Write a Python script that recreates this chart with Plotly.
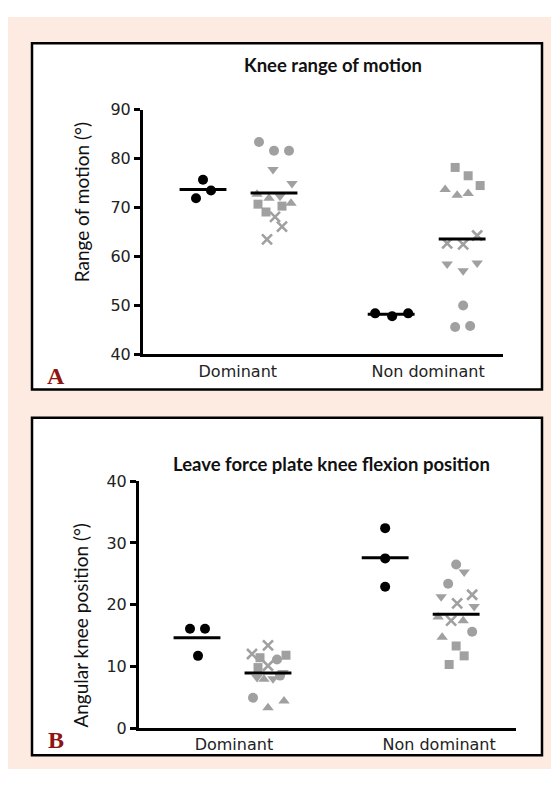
import plotly.graph_objects as go

# page is offset by the browser's default 8px body margin
OFF = 8
W, H = 559 - OFF, 787 - 2 * OFF
GRAY = "#a0a0a0"
BLACK = "#000000"

# ---------------- data ----------------
# Panel A: Knee range of motion (deg)
A_dom_black = [75.7, 73.5, 71.9]
A_dom_black_jit = [0, 8, -7]
A_dom_circle = [83.4, 81.6, 81.6]
A_dom_circle_jit = [-15, 0, 15]
A_dom_tdown = [77.8, 74.9, 72.3]
A_dom_tdown_jit = [-1, 18, 6]
A_dom_tup = [72.7, 71.9, 70.9]
A_dom_tup_jit = [-17, -5, 17]
A_dom_square = [70.7, 69.1, 70.3]
A_dom_square_jit = [-16, -8, 8]
A_dom_x = [68.1, 66.1, 63.5]
A_dom_x_jit = [1, 8, -7]

A_non_black = [48.4, 47.8, 48.4]
A_non_black_jit = [-16, 1, 17]
A_non_square = [78.2, 76.5, 74.5]
A_non_square_jit = [-7, 6, 18]
A_non_tup = [73.7, 72.5, 72.9]
A_non_tup_jit = [-17, -5, 6]
A_non_x = [62.7, 62.5, 64.3]
A_non_x_jit = [-15, 1, 15]
A_non_tdown = [58.5, 57.1, 58.7]
A_non_tdown_jit = [-15, 1, 15]
A_non_circle = [50.0, 45.6, 45.8]
A_non_circle_jit = [1, -7, 8]

# Panel B: Leave force plate knee flexion position (deg)
B_dom_black = [16.1, 16.1, 11.7]
B_dom_black_jit = [-7, 8, 1]
B_dom_x = [13.4, 12.0, 10.1]
B_dom_x_jit = [0, -16, 0]
B_dom_square = [11.8, 11.4, 9.8]
B_dom_square_jit = [18, -8, -10]
B_dom_circle = [11.1, 8.5, 4.9]
B_dom_circle_jit = [9, 12, -15]
B_dom_tup = [7.9, 3.3, 4.4]
B_dom_tup_jit = [-4, 0, 16]
B_dom_tdown = [8.2, 8.0, 9.0]
B_dom_tdown_jit = [-11, 5, 15]

B_non_black = [32.4, 27.5, 22.9]
B_non_black_jit = [0, 0, 0]
B_non_circle = [26.5, 23.4, 15.6]
B_non_circle_jit = [0, -8, 16]
B_non_tdown = [25.3, 21.3, 19.7]
B_non_tdown_jit = [8, -15, 18]
B_non_x = [21.6, 20.2, 17.4]
B_non_x_jit = [16, 1, -5]
B_non_tup = [18.0, 17.4, 14.7]
B_non_tup_jit = [-18, 7, -14]
B_non_square = [13.3, 11.7, 10.3]
B_non_square_jit = [0, 8, -7]

categories = ["Dominant", "Non dominant"]
col_pos = [0, 1, 2.65, 3.65]          # column centres (in column units)
A_yticks = [40, 50, 60, 70, 80, 90]
B_yticks = [0, 10, 20, 30, 40]
A_title = "Knee range of motion"
B_title = "Leave force plate knee flexion position"
A_ytitle = "Range of motion (°)"
B_ytitle = "Angular knee position (°)"

UNIT = 71.0  # px per column unit

fig = go.Figure()

def px(v):
    return (v - OFF) / W

def py(v):
    return 1 - (v - OFF) / H

def add_pts(vals, jit, col, symbol, color, xa, ya, size=10):
    xs = [col_pos[col] + j / UNIT for j in jit]
    if symbol == "x-thin":
        mk = dict(symbol="x-thin", size=size, line=dict(color=color, width=2.6))
    else:
        mk = dict(symbol=symbol, size=size, color=color, line=dict(width=0))
    fig.add_trace(go.Scatter(x=xs, y=vals, mode="markers", marker=mk,
                             xaxis=xa, yaxis=ya, showlegend=False,
                             hoverinfo="skip", cliponaxis=False))

def add_mean(vals, col, xa, ya):
    m = sum(vals) / len(vals)
    fig.add_trace(go.Scatter(x=[col_pos[col] - 0.33, col_pos[col] + 0.33], y=[m, m],
                             mode="lines", line=dict(color=BLACK, width=3),
                             xaxis=xa, yaxis=ya, showlegend=False, hoverinfo="skip",
                             cliponaxis=False))

# Panel A
add_pts(A_dom_black, A_dom_black_jit, 0, "circle", BLACK, "x", "y")
add_pts(A_dom_circle, A_dom_circle_jit, 1, "circle", GRAY, "x", "y")
add_pts(A_dom_tdown, A_dom_tdown_jit, 1, "triangle-down", GRAY, "x", "y")
add_pts(A_dom_tup, A_dom_tup_jit, 1, "triangle-up", GRAY, "x", "y")
add_pts(A_dom_square, A_dom_square_jit, 1, "square", GRAY, "x", "y", 9)
add_pts(A_dom_x, A_dom_x_jit, 1, "x-thin", GRAY, "x", "y")
add_pts(A_non_black, A_non_black_jit, 2, "circle", BLACK, "x", "y")
add_pts(A_non_square, A_non_square_jit, 3, "square", GRAY, "x", "y", 9)
add_pts(A_non_tup, A_non_tup_jit, 3, "triangle-up", GRAY, "x", "y")
add_pts(A_non_x, A_non_x_jit, 3, "x-thin", GRAY, "x", "y")
add_pts(A_non_tdown, A_non_tdown_jit, 3, "triangle-down", GRAY, "x", "y")
add_pts(A_non_circle, A_non_circle_jit, 3, "circle", GRAY, "x", "y")
add_mean(A_dom_black, 0, "x", "y")
add_mean(A_dom_circle + A_dom_tdown + A_dom_tup + A_dom_square + A_dom_x, 1, "x", "y")
add_mean(A_non_black, 2, "x", "y")
add_mean(A_non_square + A_non_tup + A_non_x + A_non_tdown + A_non_circle, 3, "x", "y")

# Panel B
add_pts(B_dom_black, B_dom_black_jit, 0, "circle", BLACK, "x2", "y2")
add_pts(B_dom_x, B_dom_x_jit, 1, "x-thin", GRAY, "x2", "y2")
add_pts(B_dom_square, B_dom_square_jit, 1, "square", GRAY, "x2", "y2", 9)
add_pts(B_dom_circle, B_dom_circle_jit, 1, "circle", GRAY, "x2", "y2")
add_pts(B_dom_tup, B_dom_tup_jit, 1, "triangle-up", GRAY, "x2", "y2")
add_pts(B_dom_tdown, B_dom_tdown_jit, 1, "triangle-down", GRAY, "x2", "y2")
add_pts(B_non_black, B_non_black_jit, 2, "circle", BLACK, "x2", "y2")
add_pts(B_non_circle, B_non_circle_jit, 3, "circle", GRAY, "x2", "y2")
add_pts(B_non_tdown, B_non_tdown_jit, 3, "triangle-down", GRAY, "x2", "y2")
add_pts(B_non_x, B_non_x_jit, 3, "x-thin", GRAY, "x2", "y2")
add_pts(B_non_tup, B_non_tup_jit, 3, "triangle-up", GRAY, "x2", "y2")
add_pts(B_non_square, B_non_square_jit, 3, "square", GRAY, "x2", "y2", 9)
add_mean(B_dom_black, 0, "x2", "y2")
add_mean(B_dom_x + B_dom_square + B_dom_circle + B_dom_tup + B_dom_tdown, 1, "x2", "y2")
add_mean(B_non_black, 2, "x2", "y2")
add_mean(B_non_circle + B_non_tdown + B_non_x + B_non_tup + B_non_square, 3, "x2", "y2")

TICKFONT = dict(family="DejaVu Sans", size=16, color="#222")

xaxis_common = dict(showline=True, linecolor=BLACK, linewidth=3, ticks="",
                    showgrid=False, zeroline=False, tickfont=TICKFONT, fixedrange=True)
yaxis_common = dict(showline=True, linecolor=BLACK, linewidth=3, ticks="outside",
                    ticklen=6, tickwidth=2.5, tickcolor=BLACK, showgrid=False,
                    zeroline=False, tickfont=TICKFONT, fixedrange=True)

TITLEFONT = dict(family="Lato", size=18.5, color="#111")
YTFONT = dict(family="Lato", size=19, color="#111")

fig.update_layout(
    width=W, height=H,
    margin=dict(l=0, r=0, t=0, b=0),
    paper_bgcolor="white", plot_bgcolor="rgba(0,0,0,0)",
    showlegend=False,
    xaxis=dict(xaxis_common, domain=[px(143), px(503)],
               range=[(143 - 203) / UNIT, (503 - 203) / UNIT],
               tickvals=[0.49, 3.17], ticktext=categories, anchor="y"),
    yaxis=dict(yaxis_common, domain=[py(354), py(103)], range=[40, 90],
               tickvals=A_yticks, anchor="x"),
    xaxis2=dict(xaxis_common, domain=[px(139), px(516)],
                range=[(139 - 197) / UNIT, (516 - 197) / UNIT],
                tickvals=[0.52, 3.41], ticktext=categories, anchor="y2"),
    yaxis2=dict(yaxis_common, domain=[py(737), py(484)], range=[0, 40],
                tickvals=B_yticks, anchor="x2"),
    shapes=[
        dict(type="rect", xref="paper", yref="paper", x0=0, x1=1, y0=0, y1=1,
             fillcolor="#fdebe2", line=dict(width=0), layer="below"),
        dict(type="rect", xref="paper", yref="paper", x0=px(32), x1=px(542), y0=py(390), y1=py(35),
             fillcolor="white", line=dict(color=BLACK, width=2.5), layer="below"),
        dict(type="rect", xref="paper", yref="paper", x0=px(32), x1=px(542), y0=py(765), y1=py(419),
             fillcolor="white", line=dict(color=BLACK, width=2.5), layer="below"),
    ],
    annotations=[
        dict(text="<b>" + A_title + "</b>", xref="paper", yref="paper", x=px(333), y=py(57),
             showarrow=False, font=TITLEFONT, xanchor="center", yanchor="middle"),
        dict(text="<b>" + B_title + "</b>", xref="paper", yref="paper", x=px(331), y=py(466),
             showarrow=False, font=TITLEFONT, xanchor="center", yanchor="middle"),
        dict(text=A_ytitle, xref="paper", yref="paper", x=px(81), y=py(198), textangle=-90,
             showarrow=False, font=YTFONT, xanchor="center", yanchor="middle"),
        dict(text=B_ytitle, xref="paper", yref="paper", x=px(81), y=py(632), textangle=-90,
             showarrow=False, font=YTFONT, xanchor="center", yanchor="middle"),
        dict(text="<b>A</b>", xref="paper", yref="paper", x=px(56), y=py(376),
             showarrow=False, font=dict(family="Liberation Serif", size=24, color="#8e1414"),
             xanchor="center", yanchor="middle"),
        dict(text="<b>B</b>", xref="paper", yref="paper", x=px(56), y=py(749),
             showarrow=False, font=dict(family="Liberation Serif", size=24, color="#8e1414"),
             xanchor="center", yanchor="middle"),
    ],
)

fig.write_html("out.html")
